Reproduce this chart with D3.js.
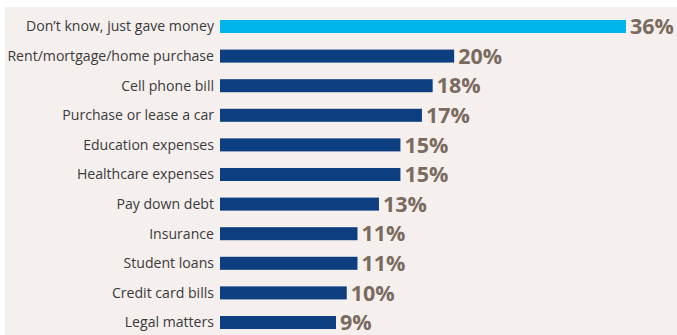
<!DOCTYPE html>
<html>
<head>
<meta charset="utf-8">
<script src="https://cdn.jsdelivr.net/npm/d3@7"></script>
<style>
  html, body { margin: 0; padding: 0; background: #ffffff; }
  svg { display: block; }
</style>
</head>
<body>
<div id="chart"></div>
<script>
// What the money was used for (share of respondents)
const categories = [
  "Don’t know, just gave money",
  "Rent/mortgage/home purchase",
  "Cell phone bill",
  "Purchase or lease a car",
  "Education expenses",
  "Healthcare expenses",
  "Pay down debt",
  "Insurance",
  "Student loans",
  "Credit card bills",
  "Legal matters"
];
const values = [36, 20, 18, 17, 15, 15, 13, 11, 11, 10, 9];
const valueLabels = ["36%", "20%", "18%", "17%", "15%", "15%", "13%", "11%", "11%", "10%", "9%"];

const width = 677, height = 335;
const barLeft = 220;

const svg = d3.select("#chart").append("svg")
  .attr("width", width)
  .attr("height", height);

// light panel behind the bars
svg.append("rect")
  .attr("x", 5).attr("y", 7)
  .attr("width", width - 5).attr("height", height - 7)
  .attr("fill", "#f5f0ee");

const x = d3.scaleLinear().domain([-1.8, 36]).range([barLeft, 626]);
const y = d3.scaleBand()
  .domain(categories)
  .range([11.7, 337.3])
  .paddingInner(0.56)
  .paddingOuter(0.28);

const rows = categories.map((c, i) => ({ c, v: values[i], label: valueLabels[i], i }));

const g = svg.append("g");

g.selectAll("rect.bar")
  .data(rows)
  .join("rect")
  .attr("class", "bar")
  .attr("x", x(x.domain()[0]))
  .attr("y", d => y(d.c))
  .attr("width", d => x(d.v) - x(x.domain()[0]))
  .attr("height", y.bandwidth())
  .attr("fill", d => d.i === 0 ? "#00b4ec" : "#0d3f80");

// category names, right-aligned against the bars
g.selectAll("text.cat")
  .data(rows)
  .join("text")
  .attr("class", "cat")
  .attr("x", barLeft - 6)
  .attr("y", d => y(d.c) + y.bandwidth() / 2)
  .attr("dy", "0.35em")
  .attr("text-anchor", "end")
  .attr("font-family", "'Open Sans', sans-serif")
  .attr("font-size", 14.1)
  .attr("fill", "#3a3a3a")
  .text(d => d.c);

// value labels at bar ends
g.selectAll("text.val")
  .data(rows)
  .join("text")
  .attr("class", "val")
  .attr("x", d => x(d.v) + 4)
  .attr("y", d => y(d.c) + y.bandwidth() / 2)
  .attr("dy", "0.36em")
  .attr("font-family", "'Open Sans', sans-serif")
  .attr("font-weight", 700)
  .attr("font-size", 21.5)
  .attr("fill", "#7a6b5e")
  .text(d => d.label);
</script>
</body>
</html>
